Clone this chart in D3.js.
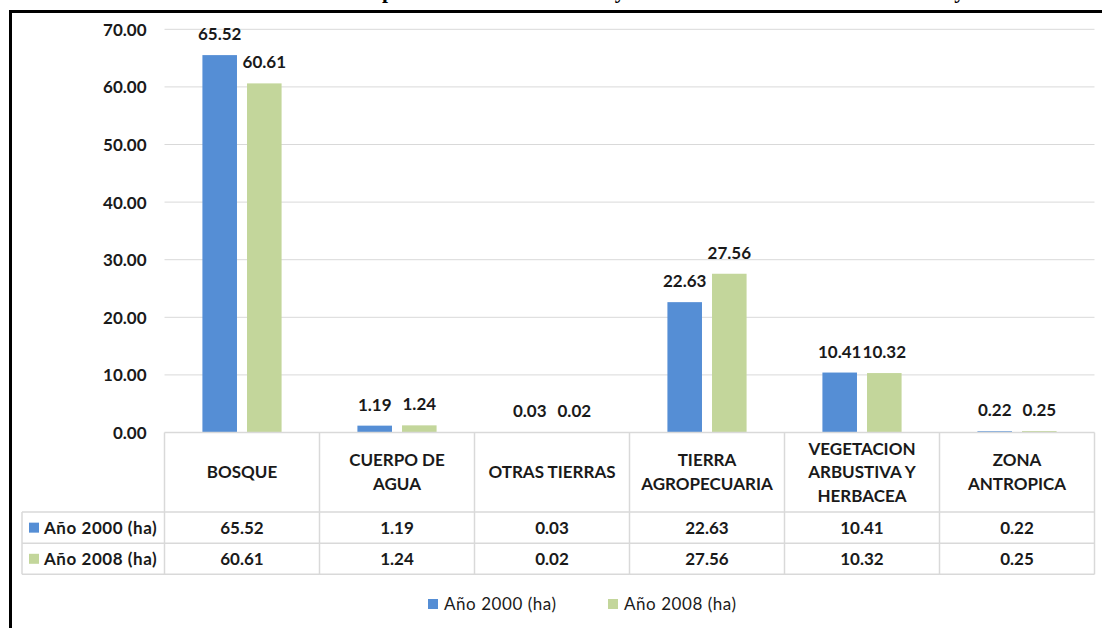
<!DOCTYPE html>
<html>
<head>
<meta charset="utf-8">
<script src="https://cdn.jsdelivr.net/npm/d3@7"></script>
<style>
body { margin: 0; background: #fff; }
svg { display: block; }
text { font-family: Lato, "Open Sans", sans-serif; fill: #1a1a1a; }
</style>
</head>
<body>
<script>
var categories = ["BOSQUE", "CUERPO DE|AGUA", "OTRAS TIERRAS", "TIERRA|AGROPECUARIA", "VEGETACION|ARBUSTIVA Y|HERBACEA", "ZONA|ANTROPICA"];
var seriesNames = ["Año 2000 (ha)", "Año 2008 (ha)"];
var values2000 = [65.52, 1.19, 0.03, 22.63, 10.41, 0.22];
var values2008 = [60.61, 1.24, 0.02, 27.56, 10.32, 0.25];
var yTicks = [0, 10, 20, 30, 40, 50, 60, 70];
var titleText = "Tabla 1. Comparación de la cobertura y uso de la tierra entre los años 2000 y 2008";

var colors = ["#558ed5", "#c3d69b"],
gridColor = "#d9d9d9",
W = 1102, H = 628,
plot = {left: 164.5, right: 1094.5, top: 29.3, bottom: 432.5},
rows = [432.5, 512, 543.3, 574.3],
legendLeft = 22;

var series = seriesNames.map(function(name, i) {
	return {name: name, values: i === 0 ? values2000 : values2008, color: colors[i]};
});

var svg = d3.select("body").append("svg")
	.attr("width", W)
	.attr("height", H);

svg.append("rect").attr("width", W).attr("height", H).attr("fill", "#fff");

var x0 = d3.scaleBand().domain(categories).range([plot.left, plot.right]),
x1 = d3.scaleBand().domain(seriesNames).range([0, x0.bandwidth()])
	.paddingInner(0.225).paddingOuter(0.85),
y = d3.scaleLinear().domain([0, 70]).range([plot.bottom, plot.top]);

// title, mostly cut off at the top of the picture (only descenders show)
var title = svg.append("text")
	.attr("y", -2)
	.style("font-family", "'Liberation Serif', 'Times New Roman', serif")
	.style("font-weight", "bold")
	.style("font-size", "21.6px")
	.style("fill", "#000")
	.text(titleText);
var pIdx = titleText.indexOf("p");
var before = title.node().getSubStringLength(0, pIdx),
pw = title.node().getSubStringLength(pIdx, 1);
title.attr("x", 388 - before - pw / 2);

// gridlines
svg.append("g")
	.selectAll("line")
	.data(yTicks.filter(function(d) { return d > 0; }))
	.enter().append("line")
	.attr("x1", plot.left).attr("x2", plot.right)
	.attr("y1", function(d) { return y(d); })
	.attr("y2", function(d) { return y(d); })
	.attr("stroke", gridColor)
	.attr("stroke-width", 1);

// y axis
var yAxis = d3.axisLeft(y).tickValues(yTicks).tickFormat(d3.format(".2f")).tickSize(0).tickPadding(0);
var yG = svg.append("g")
	.attr("transform", "translate(146.5,0)")
	.call(yAxis);
yG.select(".domain").remove();
yG.selectAll("text")
	.attr("dy", "0.35em")
	.style("font-family", "Lato, sans-serif")
	.style("font-weight", "bold")
	.style("font-size", "17px")
	.attr("fill", "#1a1a1a");

// bars
var groups = svg.append("g").selectAll("g")
	.data(series)
	.enter().append("g")
	.attr("fill", function(s) { return s.color; });

groups.selectAll("rect")
	.data(function(s) {
		return s.values.map(function(v, i) { return {cat: categories[i], name: s.name, value: v}; });
	})
	.enter().append("rect")
	.attr("x", function(d) { return x0(d.cat) + x1(d.name); })
	.attr("width", x1.bandwidth())
	.attr("y", function(d) { return y(d.value); })
	.attr("height", function(d) { return y(0) - y(d.value); });

groups.selectAll("text")
	.data(function(s) {
		return s.values.map(function(v, i) { return {cat: categories[i], name: s.name, value: v}; });
	})
	.enter().append("text")
	.attr("x", function(d) { return x0(d.cat) + x1(d.name) + x1.bandwidth() / 2; })
	.attr("y", function(d) { return y(d.value) - 15; })
	.attr("text-anchor", "middle")
	.style("font-weight", "bold")
	.style("font-size", "17px")
	.text(function(d) { return d3.format(".2f")(d.value); });

// data table
var table = svg.append("g").attr("stroke", gridColor).attr("stroke-width", 1.5).attr("fill", "none");

table.selectAll("line.h")
	.data(rows)
	.enter().append("line")
	.attr("x1", function(d, i) { return i === 0 ? plot.left : legendLeft; })
	.attr("x2", plot.right)
	.attr("y1", function(d) { return d; })
	.attr("y2", function(d) { return d; });

var colEdges = categories.map(function(c) { return x0(c); }).concat([plot.right]);
table.selectAll("line.v")
	.data(colEdges)
	.enter().append("line")
	.attr("x1", function(d) { return d; })
	.attr("x2", function(d) { return d; })
	.attr("y1", rows[0])
	.attr("y2", rows[3]);

table.append("line")
	.attr("x1", legendLeft).attr("x2", legendLeft)
	.attr("y1", rows[1]).attr("y2", rows[3]);

// header labels
var lineH = 23.7,
headCenter = (rows[0] + rows[1]) / 2;
var heads = svg.append("g").selectAll("text")
	.data(categories)
	.enter().append("text")
	.attr("text-anchor", "middle")
	.style("font-weight", "bold")
	.style("font-size", "17px");

heads.each(function(c) {
	var lines = c.split("|"),
	first = headCenter + 6 - (lines.length - 1) * lineH / 2;
	d3.select(this).selectAll("tspan")
		.data(lines)
		.enter().append("tspan")
		.attr("x", x0(c) + x0.bandwidth() / 2)
		.attr("y", function(d, i) { return first + i * lineH; })
		.text(function(d) { return d; });
});

// value rows
series.forEach(function(s, r) {
	var cy = (rows[r + 1] + rows[r + 2]) / 2;
	var rowG = svg.append("g");
	rowG.append("rect")
		.attr("x", 29).attr("y", cy - 5)
		.attr("width", 10).attr("height", 10)
		.attr("fill", s.color);
	rowG.append("text")
		.attr("x", 44).attr("y", cy + 6)
		.style("font-weight", "bold")
		.style("font-size", "17px")
		.style("letter-spacing", "0.55px")
		.text(s.name);
	rowG.selectAll("text.val")
		.data(s.values)
		.enter().append("text")
		.attr("class", "val")
		.attr("x", function(d, i) { return x0(categories[i]) + x0.bandwidth() / 2; })
		.attr("y", cy + 6)
		.attr("text-anchor", "middle")
		.style("font-weight", "bold")
		.style("font-size", "17px")
		.text(function(d) { return d3.format(".2f")(d); });
});

// legend
var legendX = [428, 608];
var legend = svg.append("g").selectAll("g")
	.data(series)
	.enter().append("g")
	.attr("transform", function(d, i) { return "translate(" + legendX[i] + ",604)"; });
legend.append("rect")
	.attr("x", 0).attr("y", -5)
	.attr("width", 10).attr("height", 10)
	.attr("fill", function(d) { return d.color; });
legend.append("text")
	.attr("x", 16).attr("y", 6)
	.style("font-size", "17px")
	.style("letter-spacing", "0.55px")
	.text(function(d) { return d.name; });

// frame, left and top edges only
svg.append("path")
	.attr("d", "M10.5," + H + "V11.5H" + W)
	.attr("fill", "none")
	.attr("stroke", "#000")
	.attr("stroke-width", 3);
</script>
</body>
</html>
